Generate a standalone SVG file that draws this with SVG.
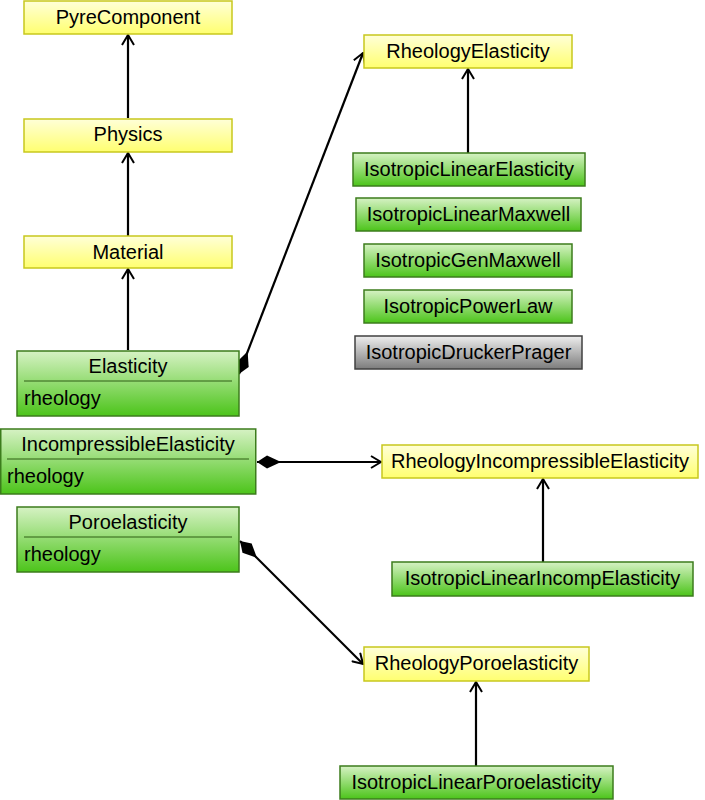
<svg xmlns="http://www.w3.org/2000/svg" width="705" height="800" viewBox="0 0 705 800">
<defs>
<linearGradient id="gy" x1="0" y1="0" x2="0" y2="1"><stop offset="0" stop-color="#ffffd8"/><stop offset="1" stop-color="#ffff70"/></linearGradient>
<linearGradient id="gg" x1="0" y1="0" x2="0" y2="1"><stop offset="0" stop-color="#d6f2c4"/><stop offset="1" stop-color="#4cc41a"/></linearGradient>
<linearGradient id="gr" x1="0" y1="0" x2="0" y2="1"><stop offset="0" stop-color="#eeeeee"/><stop offset="1" stop-color="#7c7c7c"/></linearGradient>
<marker id="arr" viewBox="0 0 12 14" refX="11" refY="7" markerWidth="12" markerHeight="14" markerUnits="userSpaceOnUse" orient="auto"><path d="M1,1 L11,7 L1,13" fill="none" stroke="#000" stroke-width="2"/></marker>
<marker id="dia" viewBox="0 0 24 14" refX="0" refY="7" markerWidth="24" markerHeight="14" markerUnits="userSpaceOnUse" orient="auto"><path d="M0,7 L10,0.5 L24,7 L10,13.5 Z" fill="#000"/></marker>
</defs>
<style>
.y{fill:url(#gy);stroke:#c8c81e;stroke-width:1.5}
.g{fill:url(#gg);stroke:#3c7c1c;stroke-width:1.5}
.k{fill:url(#gr);stroke:#404040;stroke-width:1.5}
text{font-family:"Liberation Sans",Arial,sans-serif;font-size:20px;fill:#000}
.c{text-anchor:middle}
.sep{stroke:#2f5f14;stroke-width:1}
.e{fill:none;stroke:#000;stroke-width:2.2}
</style>
<g id="connectors">
<line class="e" x1="128" y1="118" x2="128" y2="35" marker-end="url(#arr)"/>
<line class="e" x1="128" y1="236" x2="128" y2="153" marker-end="url(#arr)"/>
<line class="e" x1="128" y1="350" x2="128" y2="269" marker-end="url(#arr)"/>
<line class="e" x1="468" y1="153" x2="468" y2="69" marker-end="url(#arr)"/>
<line class="e" x1="543" y1="562" x2="543" y2="479" marker-end="url(#arr)"/>
<line class="e" x1="476" y1="766" x2="476" y2="682" marker-end="url(#arr)"/>
<line class="e" x1="239" y1="374" x2="363" y2="53" marker-start="url(#dia)" marker-end="url(#arr)"/>
<line class="e" x1="257" y1="462" x2="381" y2="462" marker-start="url(#dia)" marker-end="url(#arr)"/>
<line class="e" x1="240" y1="541" x2="363" y2="664" marker-start="url(#dia)" marker-end="url(#arr)"/>
</g>
<g id="PyreComponent"><rect class="y" x="24" y="1" width="208" height="33"/><text class="c" x="128" y="24">PyreComponent</text></g>
<g id="Physics"><rect class="y" x="24" y="119" width="208" height="33"/><text class="c" x="128" y="141">Physics</text></g>
<g id="Material"><rect class="y" x="24" y="236" width="208" height="32"/><text class="c" x="128" y="259">Material</text></g>
<g id="Elasticity"><rect class="g" x="17" y="351" width="222" height="65"/><line class="sep" x1="24" y1="381" x2="232" y2="381"/><text class="c" x="128" y="373">Elasticity</text><text x="24" y="405">rheology</text></g>
<g id="IncompressibleElasticity"><rect class="g" x="0.75" y="429" width="255" height="65"/><line class="sep" x1="7" y1="459" x2="249" y2="459"/><text class="c" x="128" y="451">IncompressibleElasticity</text><text x="7" y="483">rheology</text></g>
<g id="Poroelasticity"><rect class="g" x="17" y="507" width="222" height="65"/><line class="sep" x1="24" y1="537" x2="232" y2="537"/><text class="c" x="128" y="529">Poroelasticity</text><text x="24" y="561">rheology</text></g>
<g id="RheologyElasticity"><rect class="y" x="364" y="35" width="208" height="33"/><text class="c" x="468" y="58">RheologyElasticity</text></g>
<g id="IsotropicLinearElasticity"><rect class="g" x="353" y="153" width="232" height="33"/><text class="c" x="469" y="176">IsotropicLinearElasticity</text></g>
<g id="IsotropicLinearMaxwell"><rect class="g" x="356" y="198" width="225" height="33"/><text class="c" x="468.5" y="221">IsotropicLinearMaxwell</text></g>
<g id="IsotropicGenMaxwell"><rect class="g" x="364" y="244" width="208" height="33"/><text class="c" x="468" y="267">IsotropicGenMaxwell</text></g>
<g id="IsotropicPowerLaw"><rect class="g" x="364" y="290" width="208" height="33"/><text class="c" x="468" y="313">IsotropicPowerLaw</text></g>
<g id="IsotropicDruckerPrager"><rect class="k" x="355" y="336" width="227" height="33"/><text class="c" x="468.5" y="359">IsotropicDruckerPrager</text></g>
<g id="RheologyIncompressibleElasticity"><rect class="y" x="382" y="445" width="316" height="33"/><text class="c" x="540" y="468">RheologyIncompressibleElasticity</text></g>
<g id="IsotropicLinearIncompElasticity"><rect class="g" x="392" y="562" width="301" height="34"/><text class="c" x="542.5" y="585">IsotropicLinearIncompElasticity</text></g>
<g id="RheologyPoroelasticity"><rect class="y" x="364" y="647" width="225" height="34"/><text class="c" x="476.5" y="670">RheologyPoroelasticity</text></g>
<g id="IsotropicLinearPoroelasticity"><rect class="g" x="340" y="766" width="273" height="33"/><text class="c" x="476.5" y="789">IsotropicLinearPoroelasticity</text></g>
</svg>
